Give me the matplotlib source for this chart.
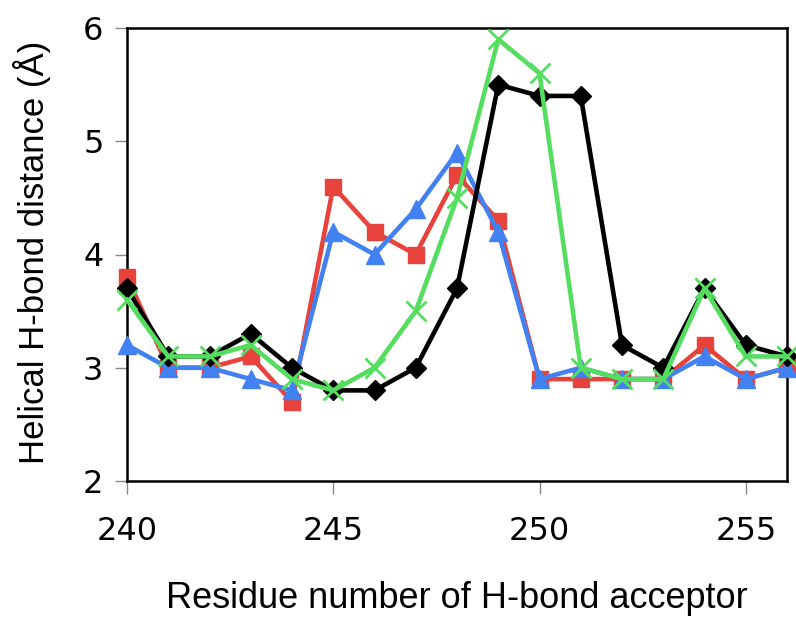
import matplotlib.pyplot as plt

residues = list(range(240, 257))
black_vals = [3.7, 3.1, 3.1, 3.3, 3.0, 2.8, 2.8, 3.0, 3.7, 5.5, 5.4, 5.4, 3.2, 3.0, 3.7, 3.2, 3.1]
red_vals = [3.8, 3.0, 3.0, 3.1, 2.7, 4.6, 4.2, 4.0, 4.7, 4.3, 2.9, 2.9, 2.9, 2.9, 3.2, 2.9, 3.0]
blue_vals = [3.2, 3.0, 3.0, 2.9, 2.8, 4.2, 4.0, 4.4, 4.9, 4.2, 2.9, 3.0, 2.9, 2.9, 3.1, 2.9, 3.0]
green_vals = [3.6, 3.1, 3.1, 3.2, 2.9, 2.8, 3.0, 3.5, 4.5, 5.9, 5.6, 3.0, 2.9, 2.9, 3.7, 3.1, 3.1]

fig = plt.figure(figsize=(7.96, 6.2), dpi=100)
ax = fig.add_axes([127/796, 1 - 481/620, (787 - 127)/796, (481 - 28)/620])

ax.plot(residues, red_vals, color="#E8423C", lw=3.3, marker="s", ms=12, clip_on=False, zorder=3)
ax.plot(residues, blue_vals, color="#4281F2", lw=3.3, marker="^", ms=13, clip_on=False, zorder=4)
ax.plot(residues, black_vals, color="black", lw=3.3, marker="D", ms=10, clip_on=False, zorder=5)
ax.plot(residues, green_vals, color="#55DD60", lw=3.3, marker="x", ms=14, mew=2,
        clip_on=False, zorder=6)

ax.set_xlim(240, 256)
ax.set_ylim(2, 6)
ax.set_xticks([240, 245, 250, 255])
ax.set_yticks([2, 3, 4, 5, 6])
for s in ax.spines.values():
    s.set_linewidth(1.8)
ax.tick_params(direction="out", length=9, width=1, color="#888888",
               labelsize=23, pad=8)
ax.tick_params(axis="x", pad=16)
for lab in ax.get_xticklabels() + ax.get_yticklabels():
    lab.set_family("DejaVu Sans")

ax.set_xlabel("Residue number of H-bond acceptor", fontsize=26,
              family="Liberation Sans", labelpad=25)
ax.set_ylabel("Helical H-bond distance (Å)", fontsize=25,
              family="Liberation Sans", labelpad=16)
ax.yaxis.set_label_coords(-0.115, 0.505)

fig.savefig("out.png", dpi=100)
